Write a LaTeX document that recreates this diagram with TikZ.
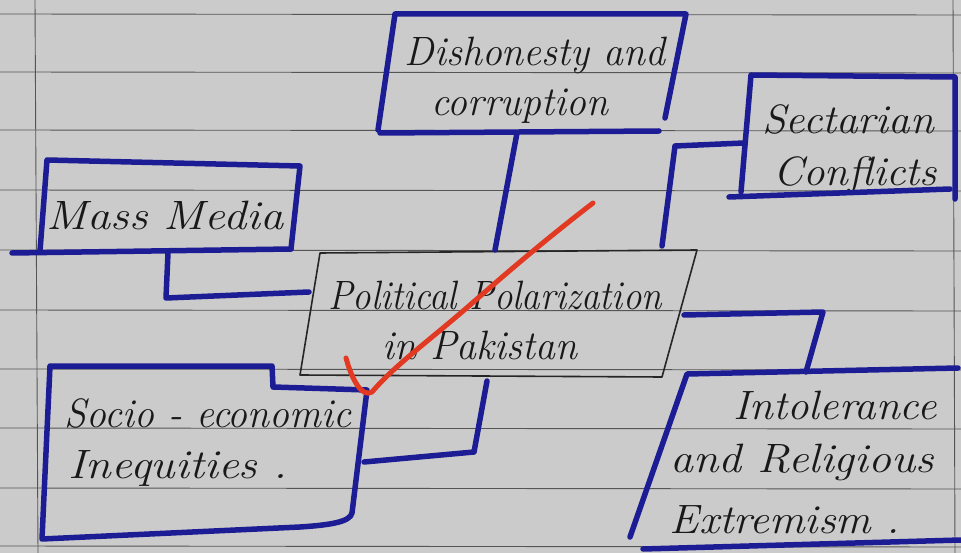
\documentclass[tikz,border=0pt]{standalone}
\definecolor{paper}{HTML}{CBCBCB}
\definecolor{ink}{HTML}{1C1C94}
\definecolor{rulegray}{HTML}{555555}
\definecolor{tickred}{HTML}{E23A22}
\newcommand{\hwt}[2][1.0]{\scalebox{#1}[1]{#2}}
\begin{document}
\begin{tikzpicture}[x=1pt,y=-1pt,
  bluepen/.style={draw=ink,line width=5.5pt,line cap=round,line join=round},
  blackpen/.style={draw=black!85,line width=1.6pt,line cap=round,line join=round},
  rulepen/.style={draw=rulegray,line width=0.9pt},
  hw/.style={font=\fontsize{41}{44}\selectfont\itshape,inner sep=0pt,text=black!90}]
\fill[paper] (0,0) rectangle (961,553);
\useasboundingbox (0,0) rectangle (961,553);
% ruled paper
\foreach \yy in {14,72,130,190,250,310,369,428,488,546}
  \draw[rulepen] (0,\yy) -- (961,\yy+1);
\draw[rulepen] (35,0) -- (38,553);
\draw[rulepen] (953,0) -- (955,553);

% ---- text nodes ----
\node[hw] (dish1) at (535,55) {\hwt[0.97]{Dishonesty and}};
\node[hw] (dish2) at (520,106) {\hwt[0.97]{corruption}};
\node[hw] (sect1) at (848,120) {\hwt[1.05]{Sectarian}};
\node[hw] (sect2) at (855,175) {\hwt[1.05]{Conflicts}};
\node[hw] (mass) at (165,215) {\hwt[1.13]{Mass Media}};
\node[hw] (pol1) at (495,295) {\hwt[0.9]{Political Polarization}};
\node[hw] (pol2) at (480,345) {\hwt[0.97]{in Pakistan}};
\node[hw] (socio1) at (208,413) {\hwt[0.97]{Socio - economic}};
\node[hw] (socio2) at (178,468) {\hwt[1.13]{Inequities .}};
\node[hw] (intol1) at (835,405) {\hwt[1.05]{Intolerance}};
\node[hw] (intol2) at (802,462) {\hwt[1.12]{and Religious}};
\node[hw] (intol3) at (785,520) {\hwt[1.08]{Extremism .}};

% ---- box outlines ----
% central box
\coordinate (cTL) at (320,253);
\coordinate (cTR) at (697,250);
\coordinate (cBR) at (662,377);
\coordinate (cBL) at (300,375);
\draw[blackpen] (cTL) -- (cTR) -- (cBR) -- (cBL) -- cycle;

% dishonesty box
\coordinate (dTL) at (395,14);
\coordinate (dTR) at (686,14);
\coordinate (dRB) at (665,118);
\coordinate (dLB) at (378,130);
\coordinate (dBL) at (380,133);
\coordinate (dBR) at (659,131);
\draw[bluepen] (dLB) -- (dTL) -- (dTR) -- (dRB);
\draw[bluepen] (dBL) -- (dBR);

% sectarian box
\coordinate (sTL) at (751,75);
\coordinate (sTR) at (955,77);
\coordinate (sRB) at (955,199);
\coordinate (sLB) at (741,192);
\coordinate (sBL) at (729,197);
\coordinate (sBR) at (950,189);
\draw[bluepen] (sLB) -- (sTL) -- (sTR) -- (sRB);
\draw[bluepen] (sBL) -- (sBR);

% mass media box
\coordinate (mTL) at (47,160);
\coordinate (mTR) at (300,166);
\coordinate (mRB) at (291,249);
\coordinate (mLB) at (40,251);
\coordinate (mBL) at (12,253);
\draw[bluepen] (mLB) -- (mTL) -- (mTR) -- (mRB);
\draw[bluepen] (mBL) -- (mRB);

% socio-economic box
\coordinate (eTL) at (50,366);
\coordinate (eTM) at (272,366);
\coordinate (eSD) at (273,387);
\coordinate (eSR) at (367,390);
\coordinate (eRB) at (352,513);
\coordinate (eBL) at (42,539);
\draw[bluepen] (eBL) -- (eTL) -- (eTM) -- (eSD) -- (eSR) -- (eRB)
  .. controls (350,522) and (330,525) .. (300,527) -- (eBL);

% intolerance box
\coordinate (iTL) at (687,374);
\coordinate (iTR) at (958,368);
\coordinate (iLB) at (630,537);
\coordinate (iBL) at (643,549);
\coordinate (iBR) at (961,540);
\draw[bluepen] (iLB) -- (iTL) -- (iTR);
\draw[bluepen] (iBL) -- (iBR);

% ---- connectors ----
\coordinate (k1) at (517,133);
\draw[bluepen] (k1) -- (495,250);

\coordinate (k2a) at (744,143);
\coordinate (k2b) at (675,146);
\coordinate (k2c) at (662,246);
\draw[bluepen] (k2a) -- (k2b) -- (k2c);

\coordinate (k3a) at (168,253);
\coordinate (k3b) at (166,298);
\coordinate (k3c) at (309,292);
\draw[bluepen] (k3a) -- (k3b) -- (k3c);

\coordinate (k4a) at (684,315);
\coordinate (k4b) at (823,312);
\coordinate (k4c) at (806,372);
\draw[bluepen] (k4a) -- (k4b) -- (k4c);

\coordinate (k5a) at (487,381);
\coordinate (k5b) at (474,452);
\coordinate (k5c) at (364,462);
\draw[bluepen] (k5a) -- (k5b) -- (k5c);

% ---- red tick ----
\draw[draw=tickred,line width=5pt,line cap=round,line join=round]
  (593,203) .. controls (545,240) and (510,270) .. (470,305)
  .. controls (430,340) and (395,365) .. (372,392)
  .. controls (362,398) and (352,380) .. (346,358);
\end{tikzpicture}
\end{document}
